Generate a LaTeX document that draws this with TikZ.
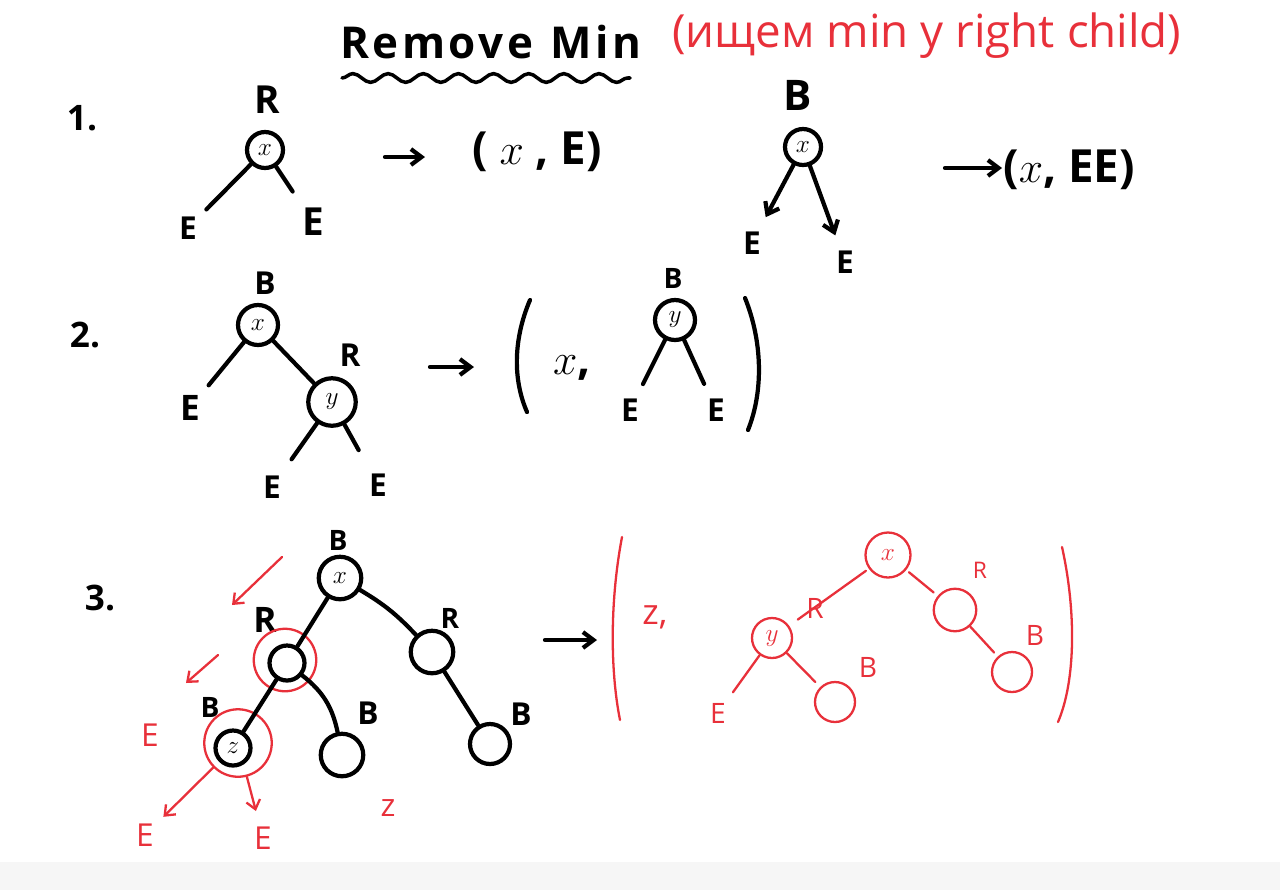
\documentclass[tikz,border=0pt]{standalone}
\usepackage{fontspec}
\setmainfont{Open Sans}
\usetikzlibrary{arrows.meta,decorations.pathmorphing}
\definecolor{pen}{HTML}{E8303A}
\definecolor{band}{HTML}{F6F6F6}
\begin{document}
\begin{tikzpicture}[x=0.02cm,y=-0.02cm,
  ink/.style={line width=2.4pt, line cap=round, line join=round, black},
  rink/.style={line width=1.3pt, line cap=round, line join=round, draw=pen},
  bnode/.style={circle, draw, line width=2.4pt, inner sep=0pt, minimum size=#1, font=\fontsize{15}{16}\selectfont},
  bnode/.default=0.72cm,
  rnode/.style={circle, draw=pen, text=pen, line width=1.3pt, inner sep=0pt, minimum size=#1, font=\fontsize{15}{16}\selectfont},
  rnode/.default=0.8cm,
  lab/.style={inner sep=1pt, font=\bfseries\fontsize{18}{20}\selectfont},
  rlab/.style={inner sep=1pt, text=pen, font=\fontsize{16}{18}\selectfont},
  big/.style={inner sep=0pt, font=\bfseries\fontsize{26}{30}\selectfont},
  hd/.style={-{Straight Barb[length=6pt,width=9pt]}},
  rhd/.style={-{Straight Barb[length=5pt,width=8pt]}}]
\useasboundingbox (0,0) rectangle (1280,890);
\fill[white] (0,0) rectangle (1280,890);
\fill[band] (0,862) rectangle (1280,890);

% title
\node[inner sep=0pt, font=\bfseries\fontsize{25}{28}\selectfont, anchor=west] (title) at (340,42) {\addfontfeature{LetterSpace=8}Remove\hspace{10pt}Min};
\draw[ink, line width=2pt, decorate, decoration={snake, amplitude=2.5pt, segment length=20pt}] (342,78) -- (630,78);
\node[inner sep=0pt, text=pen, font=\fontsize{26}{29}\selectfont, anchor=west] (note) at (672,36) {(ищем min у right child)};

% ---------- part 1 ----------
\node[big, font=\bfseries\fontsize{20}{22}\selectfont] (n1) at (82,118) {1.};
\node[lab, font=\bfseries\fontsize{22}{24}\selectfont] (a1r) at (267,100) {R};
\node[bnode] (a1) at (265,150) {$x$};
\node[lab] (a1l) at (188,228) {E};
\node[lab, font=\bfseries\fontsize{22}{24}\selectfont] (a1rr) at (313,222) {E};
\draw[ink, shorten >=6pt] (a1) -- (a1l);
\draw[ink, shorten >=10pt] (a1) -- (a1rr);
\coordinate (ar1s) at (385,157); \coordinate (ar1e) at (425,157);
\draw[ink, hd] (ar1s) -- (ar1e);
\node[big, anchor=west] (res1) at (472,152) {( $x$ , E)};

\node[lab, font=\bfseries\fontsize{24}{26}\selectfont] (b1r) at (798,95) {B};
\node[bnode] (b1) at (803,147) {$x$};
\node[lab] (b1l) at (752,243) {E};
\node[lab] (b1rr) at (845,262) {E};
\draw[ink, hd, shorten >=8pt] (b1) -- (b1l);
\draw[ink, hd, shorten >=8pt] (b1) -- (b1rr);
\coordinate (ar2s) at (945,168); \coordinate (ar2e) at (1002,168);
\draw[ink, hd] (ar2s) -- (ar2e);
\node[big, anchor=west] (res2) at (1003,170) {($x$, EE)};

% ---------- part 2 ----------
\node[big, font=\bfseries\fontsize{20}{22}\selectfont] (n2) at (85,335) {2.};
\node[lab] (c2b) at (265,283) {B};
\node[bnode=0.8cm] (c2) at (258,325) {$x$};
\node[lab, font=\bfseries\fontsize{20}{22}\selectfont] (c2l) at (190,408) {E};
\node[lab] (c2rl) at (350,355) {R};
\node[bnode=0.95cm] (c2r) at (332,402) {$y$};
\node[lab] (c2ra) at (272,487) {E};
\node[lab] (c2rb) at (378,485) {E};
\draw[ink, shorten >=6pt] (c2) -- (c2l);
\draw[ink] (c2) -- (c2r);
\draw[ink, shorten >=10pt] (c2r) -- (c2ra);
\draw[ink, shorten >=14pt] (c2r) -- (c2rb);
\coordinate (ar3s) at (430,367); \coordinate (ar3e) at (474,367);
\draw[ink, hd] (ar3s) -- (ar3e);
\coordinate (p1a) at (530,300); \coordinate (p1b) at (527,412);
\draw[ink] (p1a) .. controls (513,340) and (513,380) .. (p1b);
\node[big] (x2) at (572,368) {$x$,};
\node[lab, font=\bfseries\fontsize{16}{18}\selectfont] (d2b) at (673,278) {B};
\node[bnode=0.8cm] (d2) at (675,320) {$y$};
\node[lab] (d2l) at (630,410) {E};
\node[lab] (d2r) at (716,410) {E};
\draw[ink, shorten >=8pt] (d2) -- (d2l);
\draw[ink, shorten >=8pt] (d2) -- (d2r);
\coordinate (p2a) at (745,298); \coordinate (p2b) at (748,430);
\draw[ink] (p2a) .. controls (762,340) and (764,390) .. (p2b);

% ---------- part 3 ----------
\node[big, font=\bfseries\fontsize{20}{22}\selectfont] (n3) at (100,598) {3.};
\node[lab, font=\bfseries\fontsize{16}{18}\selectfont] (e0b) at (338,540) {B};
\node[bnode=0.85cm] (e0) at (340,578) {$x$};
\node[lab, font=\bfseries\fontsize{20}{22}\selectfont] (e1l) at (265,620) {R};
\node[bnode=0.7cm] (e1) at (287,663) {};
\node[rnode=1.25cm] (e1c) at (285,660) {};
\node[lab, font=\bfseries\fontsize{16}{18}\selectfont] (e2l) at (450,618) {R};
\node[bnode=0.85cm] (e2) at (432,652) {};
\node[lab, font=\bfseries\fontsize{18}{20}\selectfont] (e3l) at (521,714) {B};
\node[bnode=0.8cm] (e3) at (490,744) {};
\node[lab, font=\bfseries\fontsize{16}{18}\selectfont] (e4l) at (210,707) {B};
\node[bnode=0.7cm] (e4) at (233,748) {$z$};
\node[rnode=1.35cm] (e4c) at (238,743) {};
\node[lab, font=\bfseries\fontsize{18}{20}\selectfont] (e5l) at (368,713) {B};
\node[bnode=0.85cm] (e5) at (342,755) {};
\draw[ink] (e0) -- (e1);
\draw[ink] (e0) to[bend left=8] (e2);
\draw[ink] (e2) -- (e3);
\draw[ink] (e1) -- (e4);
\draw[ink] (e1) to[bend left=20] (e5);

\coordinate (ra1s) at (282,557); \coordinate (ra1e) at (232,605);
\draw[rink, rhd] (ra1s) -- (ra1e);
\coordinate (ra2s) at (218,655); \coordinate (ra2e) at (186,683);
\draw[rink, rhd] (ra2s) -- (ra2e);
\node[rlab, font=\fontsize{18}{20}\selectfont] (re1) at (150,735) {E};
\node[rlab, font=\fontsize{18}{20}\selectfont] (re2) at (145,835) {E};
\node[rlab, font=\fontsize{18}{20}\selectfont] (re3) at (263,838) {E};
\draw[rink, rhd, shorten >=6pt] (e4c) -- (re2);
\draw[rink, rhd, shorten >=8pt] (e4c) -- (re3);
\node[rlab, font=\fontsize{18}{20}\selectfont] (rz) at (388,808) {z};

\coordinate (ar4s) at (545,640); \coordinate (ar4e) at (597,640);
\draw[ink, hd] (ar4s) -- (ar4e);

% red result
\coordinate (q1a) at (622,537); \coordinate (q1b) at (620,720);
\draw[rink] (q1a) .. controls (610,600) and (610,670) .. (q1b);
\node[rlab, font=\fontsize{20}{22}\selectfont] (rz2) at (655,617) {z,};
\node[rnode=0.9cm] (f0) at (888,555) {$x$};
\node[rlab] (f1l) at (815,608) {R};
\node[rnode=0.8cm] (f1) at (772,638) {$y$};
\node[rlab] (f2l) at (868,667) {B};
\node[rnode=0.8cm] (f2) at (835,702) {};
\node[rlab] (f3l) at (718,713) {E};
\node[rlab, font=\fontsize{13}{15}\selectfont] (f4l) at (980,570) {R};
\node[rnode=0.85cm] (f4) at (955,610) {};
\node[rlab] (f5l) at (1035,635) {B};
\node[rnode=0.8cm] (f5) at (1012,672) {};
\draw[rink, shorten <=2pt, shorten >=6pt] (f0) -- (f1);
\draw[rink, shorten >=4pt] (f1) -- (f2);
\draw[rink, shorten >=6pt] (f1) -- (f3l);
\draw[rink, shorten <=2pt, shorten >=3pt] (f0) -- (f4);
\draw[rink, shorten >=3pt] (f4) -- (f5);
\coordinate (q2a) at (1062,547); \coordinate (q2b) at (1058,722);
\draw[rink] (q2a) .. controls (1076,610) and (1076,680) .. (q2b);
\end{tikzpicture}
\end{document}
